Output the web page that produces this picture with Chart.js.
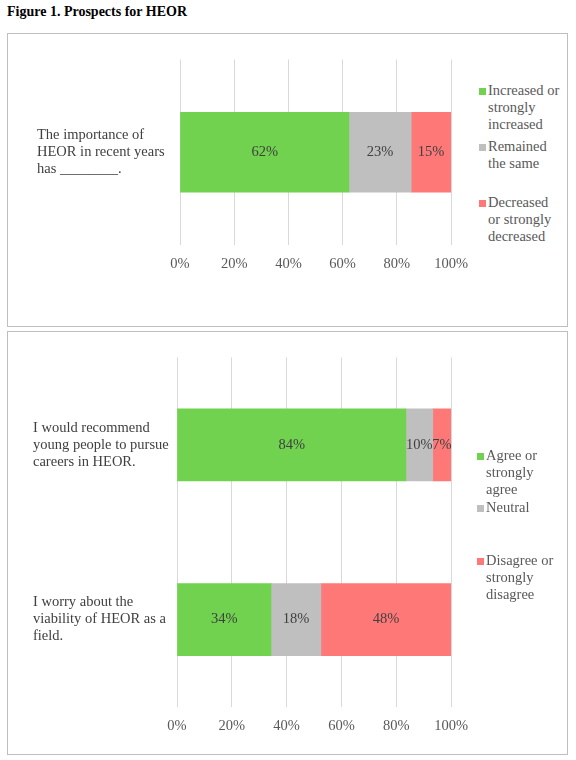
<!DOCTYPE html>
<html><head><meta charset="utf-8">
<script src="https://cdn.jsdelivr.net/npm/chart.js@4"></script>
<style>
body{margin:0;background:#fff;font-family:"Liberation Serif",serif;}
.title{position:absolute;left:7px;top:4px;font-weight:bold;font-size:14px;color:#000;}
.panel{position:absolute;left:7px;width:559px;border:1px solid #bfbfbf;}
.leg{position:absolute;font-size:14.5px;line-height:17px;color:#595959;white-space:nowrap;}
.sq{position:absolute;width:7px;height:7px;}
canvas{position:absolute;}
</style></head><body>
<div class="title">Figure 1. Prospects for HEOR</div>
<div class="panel" style="top:33px;height:292px"></div>
<div class="panel" style="top:331px;height:422px"></div>
<div style="position:absolute;left:8px;top:34px;width:471px;height:291px"><canvas id="c1"></canvas></div>
<div style="position:absolute;left:8px;top:332px;width:471px;height:421px"><canvas id="c2"></canvas></div>

<div class="sq" style="left:479px;top:88px;background:#70d24e"></div>
<div class="leg" style="left:488px;top:82px">Increased or<br>strongly<br>increased</div>
<div class="sq" style="left:479px;top:144px;background:#bfbfbf"></div>
<div class="leg" style="left:488px;top:138px">Remained<br>the same</div>
<div class="sq" style="left:479px;top:200px;background:#ff7878"></div>
<div class="leg" style="left:488px;top:194px">Decreased<br>or strongly<br>decreased</div>

<div class="sq" style="left:477px;top:453px;background:#70d24e"></div>
<div class="leg" style="left:486px;top:447px">Agree or<br>strongly<br>agree</div>
<div class="sq" style="left:477px;top:505px;background:#bfbfbf"></div>
<div class="leg" style="left:486px;top:499px">Neutral</div>
<div class="sq" style="left:477px;top:558px;background:#ff7878"></div>
<div class="leg" style="left:486px;top:552px">Disagree or<br>strongly<br>disagree</div>

<script>
const categories1 = [["The importance of","HEOR in recent years","has ________."]];
const increased = [62.3];
const remained = [23];
const decreased = [14.7];
const categories2 = [["I would recommend","young people to pursue","careers in HEOR."],["I worry about the","viability of HEOR as a","field."]];
const agree = [83.5, 34.3];
const neutral = [9.8, 18.2];
const disagree = [6.7, 47.5];
const xTicks = ["0%","20%","40%","60%","80%","100%"];

const GREEN="#70d24e", GRAY="#bfbfbf", RED="#ff7878";
const FONT={family:"Liberation Serif",size:14.5,lineHeight:1.17};

const labelPlugin={id:'lbl',afterDatasetsDraw(chart){
  const ctx=chart.ctx; ctx.save();
  ctx.font="14.5px 'Liberation Serif'"; ctx.fillStyle="#404040";
  ctx.textAlign="center"; ctx.textBaseline="middle";
  chart.data.datasets.forEach((ds,i)=>{
    chart.getDatasetMeta(i).data.forEach((bar,j)=>{
      const x=(bar.x+bar.base)/2;
      ctx.fillText(Math.round(ds.data[j])+"%",x,bar.y);
    });
  });
  ctx.restore();
}};

function make(id,cats,sets,thick,padL,padT,yW,xH){
  new Chart(document.getElementById(id),{
    type:'bar',
    data:{labels:cats,datasets:sets.map(s=>({label:s[0],data:s[1],backgroundColor:s[2],barThickness:thick}))},
    options:{indexAxis:'y',responsive:true,maintainAspectRatio:false,animation:false,
      layout:{padding:{left:padL,top:padT,right:20,bottom:0}},
      plugins:{legend:{display:false},tooltip:{enabled:false}},
      scales:{
        x:{stacked:true,min:0,max:100,border:{display:false},
          grid:{color:"#d9d9d9",drawTicks:false},
          ticks:{stepSize:20,padding:11,color:"#595959",font:FONT,callback:(v,i)=>xTicks[i]},
          afterFit(s){s.height=xH;}},
        y:{stacked:true,border:{display:false},grid:{display:false,drawTicks:false},
          ticks:{crossAlign:'far',color:"#404040",font:FONT,padding:0},
          afterFit(s){s.width=yW;}}
      }},
    plugins:[labelPlugin]
  });
}
make('c1',categories1,[["Increased",increased,GREEN],["Remained",remained,GRAY],["Decreased",decreased,RED]],80,29,9,143,80);
make('c2',categories2,[["Agree",agree,GREEN],["Neutral",neutral,GRAY],["Disagree",disagree,RED]],72,25,18,144,46);
</script></body></html>
